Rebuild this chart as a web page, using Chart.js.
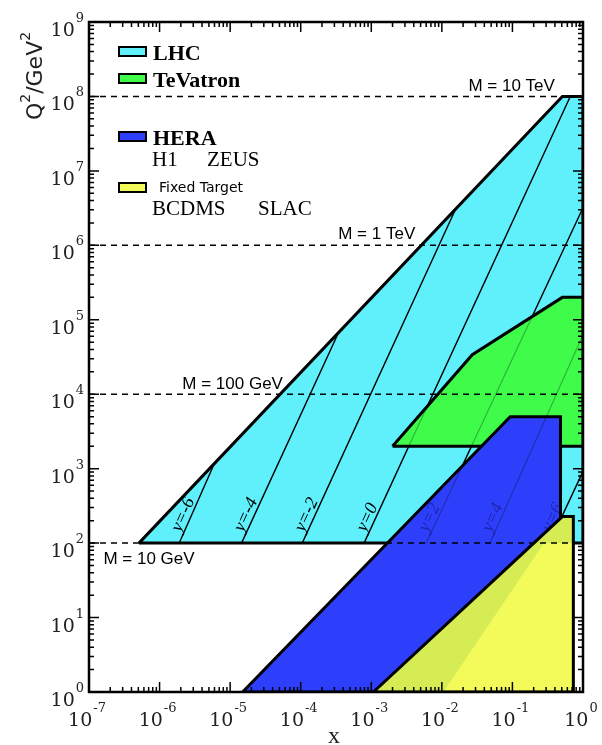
<!DOCTYPE html>
<html>
<head>
<meta charset="utf-8">
<script src="https://cdn.jsdelivr.net/npm/chart.js@4.4.1/dist/chart.umd.min.js"></script>
<style>
  html, body { margin: 0; padding: 0; background: #fff; }
  canvas { display: block; }
</style>
</head>
<body>
<canvas id="kinChart" width="602" height="745"></canvas>
<script>
// kinematic regions, x and Q^2 corners (closed polygons)
const lhcX = [5.1e-7, 0.51, 1, 1, 5.1e-7];
const lhcQ2 = [100, 1e8, 1e8, 100, 100];
const tevX = [2.0e-3, 0.027, 0.51, 1, 1, 2.0e-3];
const tevQ2 = [2000, 3.4e4, 2.0e5, 2.0e5, 2000, 2000];
const heraX = [1.5e-5, 0.093, 0.48, 0.48, 1.5e-5];
const heraQ2 = [1, 5000, 5000, 1, 1];
const ftX = [1.07e-3, 0.51, 0.73, 0.73, 1.07e-3];
const ftQ2 = [1, 227, 227, 1, 1];
const ftShadeX = [1.07e-3, 0.0105, 0.28, 0.73, 0.73, 0.51, 1.07e-3];
const ftShadeQ2 = [1, 1, 100, 100, 227, 227, 1];

// lines of constant rapidity at the LHC
const rapNames = ['y=-6', 'y=-4', 'y=-2', 'y=0', 'y=2', 'y=4', 'y=6'];
const rapX0 = [1.9e-6, 1.45e-5, 1.05e-4, 7.9e-4, 6.0e-3, 0.048, 0.335];
const rapQ0 = [100, 100, 100, 100, 100, 100, 100];
const rapX1 = [6.0e-6, 3.4e-4, 0.0155, 0.66, 1, 1, 1];
const rapQ1 = [1180, 6.6e4, 3.0e6, 1e8, 3.2e6, 6.3e4, 920];

// mass lines
const massNames = ['M = 10 TeV', 'M = 1 TeV', 'M = 100 GeV', 'M = 10 GeV'];
const massQ2 = [1e8, 1e6, 1e4, 1e2];
const massLabelX = [0.0238, 3.4e-4, 2.1e-6, 1.6e-7];
const massLabelDy = [-5, -6, -5, 21];

// axes
const xTickExp = [-7, -6, -5, -4, -3, -2, -1, 0];
const yTickExp = [0, 1, 2, 3, 4, 5, 6, 7, 8, 9];

const cCyan = '#5ff0fc', cGreen = '#3ffc4b', cBlue = '#2e3ffb', cYellow = '#f2fb5a', cShade = '#d6ec55';

function pts(xs, ys) {
    return xs.map((x, i) => ({ x: x, y: ys[i] }));
}

function poly(label, xs, ys, color, order, border) {
    return {
        label: label,
        data: pts(xs, ys),
        showLine: true,
        fill: 'shape',
        backgroundColor: color,
        borderColor: '#000',
        borderWidth: border,
        borderJoinStyle: 'miter',
        pointRadius: 0,
        order: order
    };
}

function rapLines(color, width, order) {
    return rapNames.map((n, i) => ({
        label: n,
        data: [{ x: rapX0[i], y: rapQ0[i] }, { x: rapX1[i], y: rapQ1[i] }],
        showLine: true,
        fill: false,
        borderColor: color,
        borderWidth: width,
        pointRadius: 0,
        order: order
    }));
}

const massLines = massNames.map((n, i) => ({
    label: n,
    data: [{ x: 1e-7, y: massQ2[i] }, { x: 1, y: massQ2[i] }],
    showLine: true,
    fill: false,
    borderColor: '#000',
    borderWidth: 1.5,
    borderDash: [6, 5],
    pointRadius: 0,
    order: 1
}));

const ftOutline = poly('FT outline', ftX, ftQ2, 'rgba(0,0,0,0)', 3, 3);
ftOutline.fill = false;
const ftFill = poly('Fixed Target', ftX, ftQ2, cYellow, 5, 0);
const ftShade = poly('FT shade', ftShadeX, ftShadeQ2, cShade, 4, 0);

const datasets = [
    poly('LHC', lhcX, lhcQ2, cCyan, 10, 3),
    ...rapLines('#000', 1.3, 9),
    poly('TeVatron', tevX, tevQ2, cGreen, 8, 3),
    poly('HERA', heraX, heraQ2, cBlue, 7, 3),
    ...rapLines('rgba(0,0,0,0.28)', 1.2, 6),
    ftFill, ftShade, ftOutline,
    ...massLines
];

function drawPow(ctx, exp, x, y, align) {
    ctx.font = '19px "DejaVu Serif"';
    const wb = ctx.measureText('10').width;
    ctx.font = '13px "DejaVu Serif"';
    const we = ctx.measureText(exp).width;
    const total = wb + 1 + we;
    const left = align === 'center' ? x - total / 2 : x - total;
    ctx.font = '19px "DejaVu Serif"';
    ctx.fillText('10', left, y);
    ctx.font = '13px "DejaVu Serif"';
    ctx.fillText(exp, left + wb + 1, y - 14);
}

function drawRapLabels(chart) {
    const ctx = chart.ctx, xs = chart.scales.x, ys = chart.scales.y;
    rapNames.forEach((name, i) => {
        const x0 = xs.getPixelForValue(rapX0[i]), y0 = ys.getPixelForValue(rapQ0[i]);
        const x1 = xs.getPixelForValue(rapX1[i]), y1 = ys.getPixelForValue(rapQ1[i]);
        const ang = Math.atan2(y1 - y0, x1 - x0);
        ctx.save();
        ctx.translate(x0, y0);
        ctx.rotate(ang);
        ctx.font = 'italic 18px "Liberation Serif"';
        ctx.fillStyle = i < 4 ? '#000' : 'rgba(0,0,60,0.4)';
        ctx.textBaseline = 'alphabetic';
        ctx.fillText(name, 10, -3);
        ctx.restore();
    });
}

const framePlugin = {
    id: 'frame',
    afterDatasetDraw(chart, args) {
        if (chart.data.datasets[args.index].label === 'HERA') drawRapLabels(chart);
    },
    afterDatasetsDraw(chart) {
        const ctx = chart.ctx, a = chart.chartArea;
        const xs = chart.scales.x, ys = chart.scales.y;
        ctx.save();
        ctx.fillStyle = '#000';
        ctx.strokeStyle = '#000';

        // ticks on all four sides, pointing in
        ctx.lineWidth = 1.5;
        ctx.beginPath();
        xTickExp.forEach(e => {
            const kmax = e === 0 ? 1 : 9;
            for (let k = 1; k <= kmax; k++) {
                const px = xs.getPixelForValue(k * Math.pow(10, e));
                const len = k === 1 ? 10 : 5;
                ctx.moveTo(px, a.bottom); ctx.lineTo(px, a.bottom - len);
                ctx.moveTo(px, a.top); ctx.lineTo(px, a.top + len);
            }
        });
        yTickExp.forEach(e => {
            const kmax = e === 9 ? 1 : 9;
            for (let k = 1; k <= kmax; k++) {
                const py = ys.getPixelForValue(k * Math.pow(10, e));
                const len = k === 1 ? 10 : 5;
                ctx.moveTo(a.left, py); ctx.lineTo(a.left + len, py);
                ctx.moveTo(a.right, py); ctx.lineTo(a.right - len, py);
            }
        });
        ctx.stroke();

        ctx.lineWidth = 2.5;
        ctx.strokeRect(a.left, a.top, a.right - a.left, a.bottom - a.top);

        // tick labels
        ctx.fillStyle = '#222';
        ctx.textBaseline = 'alphabetic';
        ctx.textAlign = 'left';
        xTickExp.forEach(e => {
            drawPow(ctx, String(e), xs.getPixelForValue(Math.pow(10, e)) - 2, a.bottom + 34, 'center');
        });
        yTickExp.forEach(e => {
            drawPow(ctx, String(e), a.left - 5, ys.getPixelForValue(Math.pow(10, e)) + 14, 'right');
        });

        // axis titles
        ctx.font = '24px "Liberation Serif"';
        ctx.textAlign = 'center';
        ctx.fillText('x', (a.left + a.right) / 2 - 2, 743);

        ctx.save();
        ctx.translate(42, 76);
        ctx.rotate(-Math.PI / 2);
        ctx.textAlign = 'left';
        const parts = [['Q', 0], ['2', 1], ['/GeV', 0], ['2', 1]];
        let w = 0;
        parts.forEach(p => {
            ctx.font = p[1] ? '14px "DejaVu Sans"' : '22px "DejaVu Sans"';
            w += ctx.measureText(p[0]).width;
        });
        let cx = -w / 2;
        parts.forEach(p => {
            ctx.font = p[1] ? '14px "DejaVu Sans"' : '22px "DejaVu Sans"';
            ctx.fillText(p[0], cx, p[1] ? -12 : 0);
            cx += ctx.measureText(p[0]).width;
        });
        ctx.restore();

        // mass line labels
        ctx.fillStyle = '#000';
        ctx.font = '17px "Liberation Sans"';
        ctx.textAlign = 'left';
        massNames.forEach((n, i) => {
            ctx.fillText(n, xs.getPixelForValue(massLabelX[i]), ys.getPixelForValue(massQ2[i]) + massLabelDy[i]);
        });

        // legend
        const boxes = [[cCyan, 47], [cGreen, 74], [cBlue, 132], [cYellow, 183]];
        ctx.lineWidth = 2;
        boxes.forEach(b => {
            ctx.fillStyle = b[0];
            ctx.fillRect(119, b[1], 27, 9);
            ctx.strokeRect(119, b[1], 27, 9);
        });
        ctx.fillStyle = '#000';
        ctx.font = 'bold 22px "Liberation Serif"';
        ctx.fillText('LHC', 153, 60);
        ctx.fillText('TeVatron', 153, 87);
        ctx.fillText('HERA', 153, 145);
        ctx.font = '21px "Liberation Serif"';
        ctx.fillText('H1', 152, 166);
        ctx.fillText('ZEUS', 207, 166);
        ctx.fillText('BCDMS', 152, 215);
        ctx.fillText('SLAC', 258, 215);
        ctx.font = '14px "DejaVu Sans"';
        ctx.fillText('Fixed Target', 159, 192);

        ctx.restore();
    }
};

new Chart(document.getElementById('kinChart'), {
    type: 'scatter',
    data: { datasets: datasets },
    options: {
        responsive: false,
        animation: false,
        devicePixelRatio: 1,
        events: [],
        layout: { padding: { left: 89, right: 19, top: 22, bottom: 53 } },
        elements: { line: { tension: 0 } },
        scales: {
            x: { type: 'logarithmic', min: 1e-7, max: 1, display: false },
            y: { type: 'logarithmic', min: 1, max: 1e9, display: false }
        },
        plugins: {
            legend: { display: false },
            tooltip: { enabled: false }
        }
    },
    plugins: [framePlugin]
});
</script>
</body>
</html>
